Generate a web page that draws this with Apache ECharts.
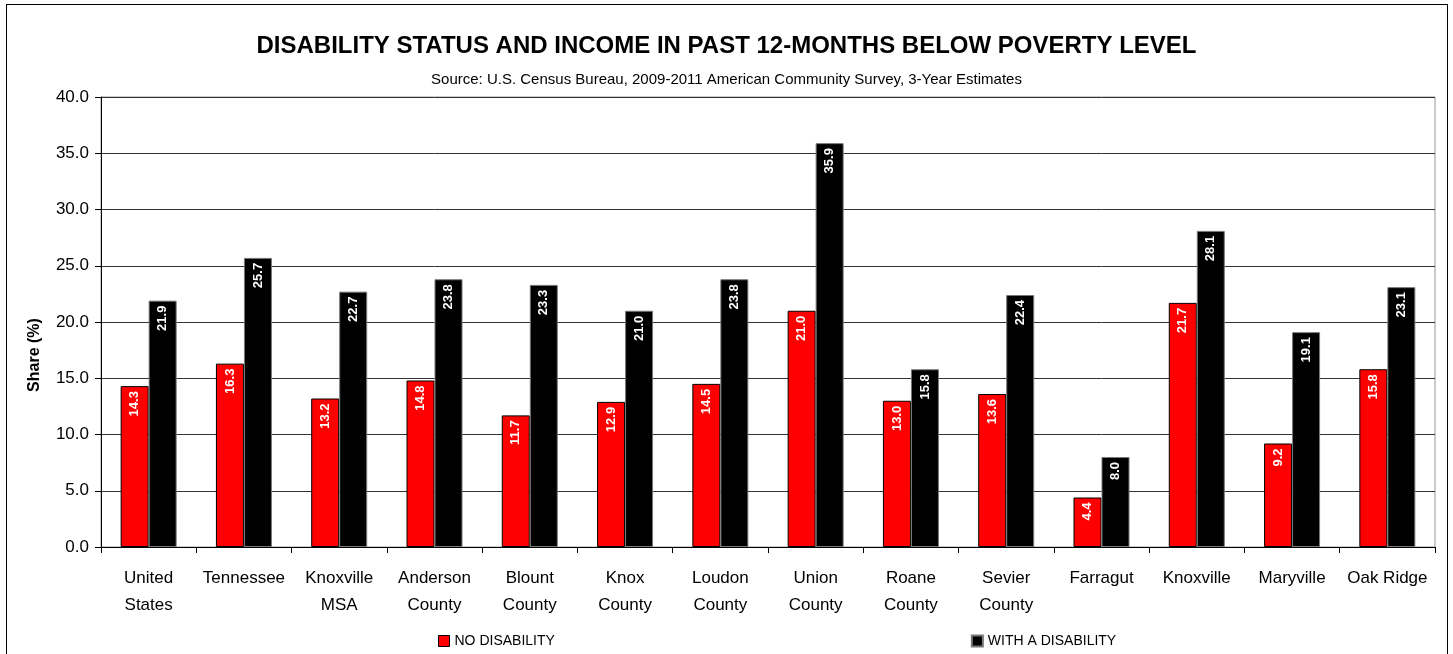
<!DOCTYPE html>
<html>
<head>
<meta charset="utf-8">
<script src="https://cdn.jsdelivr.net/npm/echarts@6/dist/echarts.min.js"></script>
<style>
  html, body { margin: 0; padding: 0; background: #fff; overflow: hidden; }
  #frame { position: absolute; left: 6px; top: 4px; width: 1442px; height: 700px; border: 1px solid #000; box-sizing: border-box; }
  #chart { position: absolute; left: 0; top: 0; width: 1453px; height: 654px; }
</style>
</head>
<body>
<div id="frame"></div>
<div id="chart"></div>
<script>
const categories = [
  "United\nStates", "Tennessee", "Knoxville\nMSA", "Anderson\nCounty", "Blount\nCounty",
  "Knox\nCounty", "Loudon\nCounty", "Union\nCounty", "Roane\nCounty", "Sevier\nCounty",
  "Farragut", "Knoxville", "Maryville", "Oak Ridge"
];
const noDisability = [14.3, 16.3, 13.2, 14.8, 11.7, 12.9, 14.5, 21.0, 13.0, 13.6, 4.4, 21.7, 9.2, 15.8];
const withDisability = [21.9, 25.7, 22.7, 23.8, 23.3, 21.0, 23.8, 35.9, 15.8, 22.4, 8.0, 28.1, 19.1, 23.1];
const yTicks = { min: 0, max: 40, interval: 5 };

const sans = "'Liberation Sans', Arial, sans-serif";

const chart = echarts.init(document.getElementById("chart"), null, { renderer: "canvas" });

// value labels sit rotated inside the top of each bar
const barLabel = {
  show: true,
  position: "insideTop",
  rotate: 90,
  align: "right",
  verticalAlign: "middle",
  distance: 5,
  color: "#fff",
  fontFamily: sans,
  fontWeight: "bold",
  fontSize: 13,
  formatter: (p) => p.value.toFixed(1),
};

chart.setOption({
  animation: false,
  backgroundColor: "transparent",
  title: [
    {
      text: "DISABILITY STATUS AND INCOME IN PAST 12-MONTHS BELOW POVERTY LEVEL",
      left: "center",
      top: 29,
      textStyle: { fontFamily: sans, fontWeight: "bold", fontSize: 24, color: "#000" },
    },
    {
      text: "Source: U.S. Census Bureau, 2009-2011 American Community Survey, 3-Year Estimates",
      left: "center",
      top: 67,
      textStyle: { fontFamily: sans, fontWeight: "normal", fontSize: 15, color: "#000" },
    },
  ],
  legend: {
    left: 433,
    top: 629,
    itemWidth: 11,
    itemHeight: 11,
    itemGap: 416,
    icon: "rect",
    textStyle: { fontFamily: sans, fontSize: 14, color: "#000" },
    data: [
      { name: "NO DISABILITY", itemStyle: { color: "#ff0000", borderColor: "#000", borderWidth: 1 } },
      { name: "WITH A DISABILITY", itemStyle: { color: "#000" } },
    ],
  },
  grid: {
    left: 101,
    right: 18,
    top: 97,
    bottom: 107,
    show: true,
    borderColor: "#999",
    borderWidth: 1,
  },
  xAxis: {
    type: "category",
    data: categories,
    axisLine: { lineStyle: { color: "#000", width: 1 } },
    axisTick: { show: true, length: 6, lineStyle: { color: "#000" } },
    axisLabel: {
      color: "#000",
      fontFamily: sans,
      fontSize: 17,
      lineHeight: 27,
      margin: 18,
      interval: 0,
    },
  },
  yAxis: {
    type: "value",
    min: yTicks.min,
    max: yTicks.max,
    interval: yTicks.interval,
    name: "Share (%)",
    nameLocation: "middle",
    nameGap: 58,
    nameTextStyle: { fontFamily: sans, fontWeight: "bold", fontSize: 16, color: "#000", padding: [0, 0, 0, -66] },
    axisLine: { show: true, lineStyle: { color: "#000", width: 1 } },
    axisTick: { show: true, length: 6, lineStyle: { color: "#000" } },
    axisLabel: {
      color: "#000",
      fontFamily: sans,
      fontSize: 17,
      margin: 12,
      formatter: (v) => v.toFixed(1),
    },
    splitLine: { lineStyle: { color: "#333", width: 1 } },
  },
  series: [
    {
      name: "NO DISABILITY",
      type: "bar",
      data: noDisability,
      barWidth: 28,
      barGap: "0%",
      itemStyle: { color: "#ff0000", borderColor: "#000", borderWidth: 1 },
      label: barLabel,
    },
    {
      name: "WITH A DISABILITY",
      type: "bar",
      data: withDisability,
      barWidth: 28,
      barGap: "0%",
      itemStyle: { color: "#000", borderColor: "#777", borderWidth: 1 },
      label: barLabel,
    },
  ],
});
</script>
</body>
</html>
